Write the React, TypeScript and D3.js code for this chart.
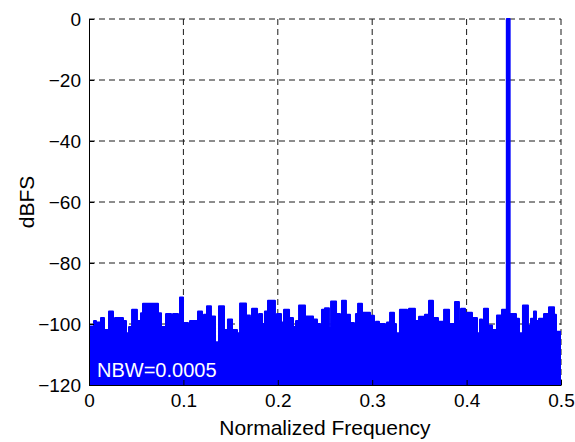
import * as d3 from 'd3';
import { useEffect, useRef } from 'react';

// noise-floor envelope of the spectrum (step starts)
const freqStarts = [
  0.0, 0.0053, 0.0074, 0.0127, 0.0159, 0.0212, 0.0254, 0.0275, 0.036, 0.0392,
  0.0424, 0.0456, 0.0508, 0.0551, 0.0572, 0.0731, 0.0763, 0.0816, 0.0869, 0.089,
  0.0943, 0.0964, 0.0996, 0.1049, 0.107, 0.1155, 0.1197, 0.1218, 0.125, 0.1292,
  0.1335, 0.1377, 0.143, 0.1472, 0.1515, 0.1568, 0.16, 0.1663, 0.1705, 0.1727,
  0.178, 0.1801, 0.1833, 0.1864, 0.1896, 0.197, 0.1991, 0.2034, 0.2066, 0.2119,
  0.2161, 0.2193, 0.2225, 0.2288, 0.2373, 0.2415, 0.2447, 0.2468, 0.25, 0.2542,
  0.2564, 0.2617, 0.2659, 0.268, 0.2722, 0.2765, 0.2807, 0.2828, 0.285, 0.2892,
  0.2977, 0.3019, 0.304, 0.3072, 0.3136, 0.3157, 0.3189, 0.3231, 0.3252, 0.3294,
  0.3369, 0.339, 0.3453, 0.3496, 0.3559, 0.3602, 0.3644, 0.3697, 0.3761, 0.3814,
  0.3877, 0.3919, 0.3941, 0.3983, 0.4004, 0.4057, 0.411, 0.4142, 0.4163, 0.4184,
  0.4227, 0.4269, 0.4322, 0.4375, 0.4426, 0.4456, 0.4523, 0.4555, 0.4597, 0.465,
  0.4682, 0.4714, 0.4735, 0.4767, 0.482, 0.4873, 0.4926, 0.4947, 0.5,
];
const levelsDb = [
  -100.8, -99, -99.5, -98, -102, -95.9, -102, -98, -99, -103,
  -101, -95.3, -99, -96.5, -93.4, -96.5, -101, -96.7, -102, -96.7,
  -98.5, -91.3, -99.7, -103, -99, -95.9, -98.5, -97, -94.2, -97.5,
  -106, -94.2, -102, -98.5, -102, -103, -93.3, -97.2, -98, -95,
  -100, -96.7, -100, -95.9, -92.4, -97.5, -96.7, -99.5, -95.3, -98,
  -101, -99, -93.9, -97.5, -98.5, -100, -110, -95.3, -94.8, -101.5,
  -92.6, -96.7, -101.5, -92.4, -97, -99.7, -101, -96.7, -93.4, -96.3,
  -97.3, -105, -99.3, -100, -103, -99.5, -96.3, -100, -103, -95.3,
  -98.5, -95, -99, -97.6, -97, -92.4, -98, -99.3, -95.3, -100,
  -92.8, -99, -95, -104, -96.3, -98, -103, -98.5, -99.5, -95,
  -100.5, -102, -97.2, -95.3, 0, -96.7, -98.3, -103, -93.9, -100.5,
  -98.3, -95.9, -99, -98.3, -96.7, -94.5, -97, -102.5, -102.5,
];

const xTicks = [0, 0.1, 0.2, 0.3, 0.4, 0.5];
const yTicks = [0, -20, -40, -60, -80, -100, -120];
const xDomain = [0, 0.5];
const yDomain = [-120, 0];

const width = 575;
const height = 442;
const font = '"Liberation Sans", Arial, Helvetica, sans-serif';

export default function App() {
  const ref = useRef<SVGSVGElement>(null);

  useEffect(() => {
    const svg = d3.select(ref.current);
    svg.selectAll('*').remove();

    const margin = { top: 19, right: 14, bottom: 57, left: 89 };
    const innerWidth = width - margin.left - margin.right;
    const innerHeight = height - margin.top - margin.bottom;

    const x = d3.scaleLinear().domain(xDomain).range([0, innerWidth]);
    const y = d3.scaleLinear().domain(yDomain).range([innerHeight, 0]);

    svg.append('rect').attr('width', width).attr('height', height).attr('fill', '#fff');

    const g = svg.append('g').attr('transform', `translate(${margin.left},${margin.top})`);

    // dashed grid, behind the data
    const grid = g.append('g').attr('stroke', '#1a1a1a').attr('stroke-width', 1)
      .attr('stroke-dasharray', '6,4');
    grid.selectAll('.gx').data(xTicks.filter((t) => t > 0)).enter().append('line')
      .attr('x1', (t) => x(t)).attr('x2', (t) => x(t))
      .attr('y1', 0).attr('y2', innerHeight);
    grid.selectAll('.gy').data(yTicks.filter((t) => t > -120)).enter().append('line')
      .attr('x1', 0).attr('x2', innerWidth)
      .attr('y1', (t) => y(t)).attr('y2', (t) => y(t));

    const pts: [number, number][] = freqStarts.map((f, i) => [f, levelsDb[i]]);

    const area = d3.area<[number, number]>()
      .x((d) => x(d[0]))
      .y0(innerHeight)
      .y1((d) => y(d[1]))
      .curve(d3.curveStepAfter);
    const line = d3.line<[number, number]>()
      .x((d) => x(d[0]))
      .y((d) => y(d[1]))
      .curve(d3.curveStepAfter);

    g.append('path').datum(pts).attr('d', area).attr('fill', '#0000ff');
    g.append('path').datum(pts).attr('d', line)
      .attr('fill', 'none').attr('stroke', '#0000ff')
      .attr('stroke-width', 2).attr('stroke-linejoin', 'round');

    // axes
    const axisLeft = d3.axisLeft(y).tickValues(yTicks).tickSizeInner(-5).tickSizeOuter(0).tickPadding(8);
    const axisBottom = d3.axisBottom(x).tickValues(xTicks).tickFormat(d3.format('')).tickSizeInner(-5).tickSizeOuter(0).tickPadding(9);

    const ya = g.append('g').call(axisLeft);
    const xa = g.append('g').attr('transform', `translate(0,${innerHeight})`).call(axisBottom);
    [ya, xa].forEach((a) => {
      a.select('.domain').attr('stroke', '#000').attr('stroke-width', 1);
      a.selectAll('line').attr('stroke', '#000');
      a.selectAll('text').attr('fill', '#000').style('font-family', font).style('font-size', '19px');
    });

    g.append('text')
      .attr('x', innerWidth / 2)
      .attr('y', innerHeight + 50)
      .attr('text-anchor', 'middle')
      .style('font-family', font)
      .style('font-size', '21px')
      .text('Normalized Frequency');

    g.append('text')
      .attr('transform', 'rotate(-90)')
      .attr('x', -innerHeight / 2)
      .attr('y', -55)
      .attr('text-anchor', 'middle')
      .style('font-family', font)
      .style('font-size', '21px')
      .text('dBFS');

    g.append('text')
      .attr('x', 8)
      .attr('y', innerHeight - 8)
      .attr('fill', '#fff')
      .style('font-family', font)
      .style('font-size', '20px')
      .text('NBW=0.0005');
  }, []);

  return (
    <svg
      ref={ref}
      width={width}
      height={height}
      style={{ position: 'absolute', left: 0, top: 0, display: 'block' }}
      role="img"
      aria-label="Spectrum plot"
    />
  );
}
